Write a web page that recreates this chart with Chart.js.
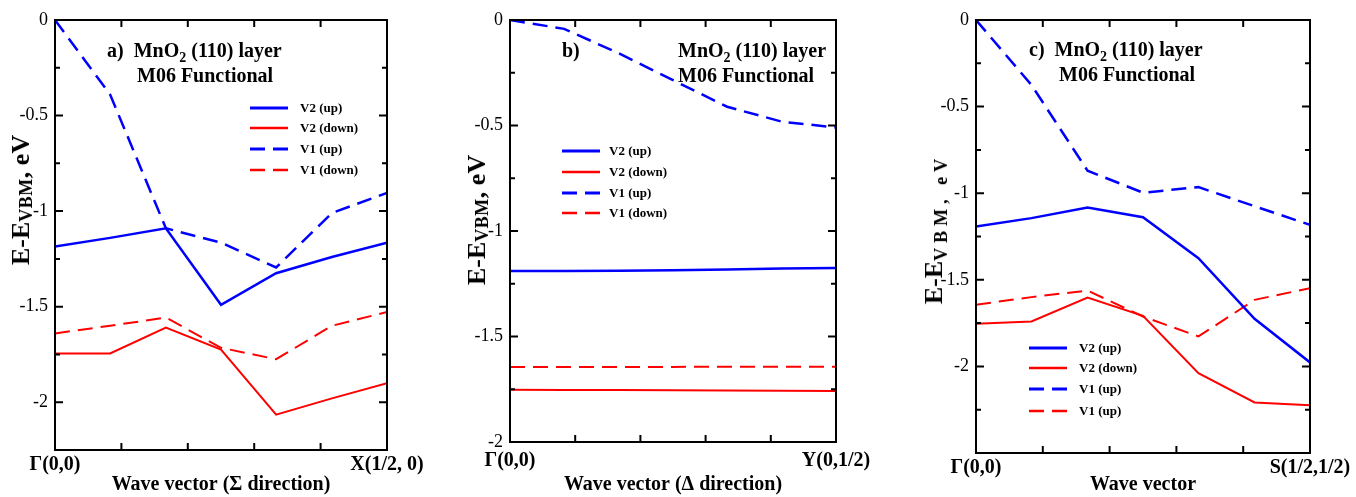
<!DOCTYPE html>
<html>
<head>
<meta charset="utf-8">
<script src="https://cdn.jsdelivr.net/npm/chart.js@4.4.1/dist/chart.umd.min.js"></script>
<style>
  body { margin: 0; background: #fff; width: 1356px; height: 497px; overflow: hidden; position: relative; }
  .panel { position: absolute; top: 0; height: 497px; }
  .note { position: absolute; font: bold 20px 'Liberation Serif', serif; line-height: 23px; color: #000; white-space: nowrap; }
  .sub2 { font-size: 14px; position: relative; top: 5px; }
  .ytitle { position: absolute; font: bold 26px 'Liberation Serif', serif; line-height: 30px; color: #000; white-space: nowrap;
            transform: translate(-50%, -50%) rotate(-90deg); }
  .ytitle .s { font-size: 18px; letter-spacing: 0.5px; position: relative; top: 3px; }
  .ytitle .w { font-size: 18px; letter-spacing: 5px; position: relative; top: 5px; }
</style>
</head>
<body>
<div class="panel" style="left:0;width:450px"><canvas id="chartA"></canvas></div>
<div class="panel" style="left:445px;width:460px"><canvas id="chartB"></canvas></div>
<div class="panel" style="left:905px;width:451px"><canvas id="chartC"></canvas></div>

<div class="note" style="left:107px;top:39px">a)&nbsp; MnO<span class="sub2">2</span> (110) layer<br>&nbsp;&nbsp;&nbsp;&nbsp;&nbsp;&nbsp;M06 Functional</div>
<div class="note" style="left:562px;top:39px">b)</div>
<div class="note" style="left:678px;top:39px">MnO<span class="sub2">2</span> (110) layer<br>M06 Functional</div>
<div class="note" style="left:1029px;top:38px">c)&nbsp; MnO<span class="sub2">2</span> (110) layer<br>&nbsp;&nbsp;&nbsp;&nbsp;&nbsp;&nbsp;M06 Functional</div>

<div class="ytitle" style="left:22px;top:200px">E-E<span class="s">VBM</span>, eV</div>
<div class="ytitle" style="left:478px;top:220px">E-E<span class="s">VBM</span>, eV</div>
<div class="ytitle" style="left:935px;top:229px">E-E<span class="w">VBM, eV</span></div>

<script>
'use strict';

// ********** DATA **********

// wave vector along the path, fraction of the zone (0 -> 1/2)
let kPath = [0, 0.083, 0.167, 0.25, 0.333, 0.417, 0.5];

let seriesNames = ['V2 (up)', 'V2 (down)', 'V1 (up)', 'V1 (down)'];
let seriesNamesC = ['V2 (up)', 'V2 (down)', 'V1 (up)', 'V1 (up)'];

// a) Sigma direction
let aV2up   = [-1.185, -1.14, -1.09, -1.49, -1.325, -1.24, -1.165];
let aV2down = [-1.745, -1.745, -1.61, -1.725, -2.065, -1.98, -1.90];
let aV1up   = [0, -0.39, -1.09, -1.165, -1.295, -1.01, -0.905];
let aV1down = [-1.64, -1.60, -1.557, -1.715, -1.775, -1.60, -1.528];

// b) Delta direction
let bV2up   = [-1.19, -1.19, -1.188, -1.186, -1.183, -1.178, -1.175];
let bV2down = [-1.752, -1.753, -1.754, -1.755, -1.756, -1.757, -1.758];
let bV1up   = [0, -0.042, -0.158, -0.285, -0.411, -0.482, -0.509];
let bV1down = [-1.644, -1.644, -1.644, -1.644, -1.643, -1.643, -1.643];

// c) Gamma -> S
let cV2up   = [-1.193, -1.144, -1.083, -1.139, -1.375, -1.725, -1.977];
let cV2down = [-1.754, -1.741, -1.602, -1.708, -2.039, -2.208, -2.225];
let cV1up   = [0, -0.375, -0.87, -0.997, -0.965, -1.075, -1.183];
let cV1down = [-1.644, -1.60, -1.562, -1.712, -1.827, -1.616, -1.548];

// tick labels
let startLabel = 'Γ(0,0)';
let endLabels = ['X(1/2, 0)', 'Y(0,1/2)', 'S(1/2,1/2)'];
let xTitles = ['Wave vector (Σ direction)', 'Wave vector (Δ direction)', 'Wave vector'];
let yMins = [-2.25, -2, -2.5];
let yBottomLabel = [false, true, false];

// ********** STYLE **********

const BLUE = '#0000ff';
const RED = '#ff0000';
const DASH = [15, 8];
const SERIF = "'Liberation Serif', 'Times New Roman', serif";

// ********** HELPER FUNCTIONS **********

function toPoints(values) {
  return values.map((v, i) => ({x: kPath[i], y: v}));
}

function isHalf(v) {
  return Math.abs(v * 2 - Math.round(v * 2)) < 1e-6;
}

// closed frame with inward ticks on all four sides
const frameTicks = {
  id: 'frameTicks',
  afterDatasetsDraw(chart) {
    let {ctx, chartArea: a, scales: {x, y}} = chart;
    ctx.save();
    ctx.strokeStyle = '#000';
    ctx.lineWidth = 2;
    ctx.beginPath();
    y.ticks.forEach(t => {
      let py = y.getPixelForValue(t.value);
      let len = isHalf(t.value) ? 8 : 5;
      ctx.moveTo(a.left, py); ctx.lineTo(a.left + len, py);
      ctx.moveTo(a.right, py); ctx.lineTo(a.right - len, py);
    });
    x.ticks.forEach(t => {
      let px = x.getPixelForValue(t.value);
      ctx.moveTo(px, a.bottom); ctx.lineTo(px, a.bottom - 7);
      ctx.moveTo(px, a.top); ctx.lineTo(px, a.top + 7);
    });
    ctx.stroke();
    ctx.strokeRect(a.left, a.top, a.right - a.left, a.bottom - a.top);
    ctx.restore();
  }
};

// legend placed inside the plot like the original
const boxLegend = {
  id: 'boxLegend',
  afterDraw(chart, args, opts) {
    let ctx = chart.ctx;
    ctx.save();
    ctx.font = 'bold 13px ' + SERIF;
    ctx.textBaseline = 'middle';
    ctx.fillStyle = '#000';
    chart.data.datasets.forEach((ds, i) => {
      let y = opts.rows[i];
      ctx.strokeStyle = ds.borderColor;
      ctx.lineWidth = ds.borderWidth + 0.5;
      ctx.setLineDash(ds.borderDash || []);
      ctx.beginPath();
      ctx.moveTo(opts.x0, y);
      ctx.lineTo(opts.x0 + 38, y);
      ctx.stroke();
      ctx.fillText(ds.label, opts.tx, y + 1);
    });
    ctx.restore();
  }
};

function yLabel(v, n) {
  if (!isHalf(v)) return '';
  if (Math.abs(v - yMins[n]) < 1e-6 && !yBottomLabel[n]) return '';
  return String(Math.round(v * 10) / 10);
}

function makePanel(id, n, series, names, geo) {
  let datasets = series.map((vals, i) => ({
    label: names[i],
    data: toPoints(vals),
    borderColor: i % 2 === 0 ? BLUE : RED,
    borderWidth: i % 2 === 0 ? 2.5 : 2,
    borderDash: i < 2 ? [] : DASH,
    pointRadius: 0,
    fill: false,
    tension: 0
  }));

  new Chart(document.getElementById(id), {
    type: 'line',
    data: {datasets: datasets},
    plugins: [frameTicks, boxLegend],
    options: {
      responsive: true,
      maintainAspectRatio: false,
      animation: false,
      layout: {padding: {left: 0, top: 20, right: geo.padRight, bottom: 0}},
      plugins: {
        legend: {display: false},
        tooltip: {enabled: false},
        boxLegend: {x0: geo.legX - geo.left, tx: geo.legText - geo.left, rows: geo.legRows}
      },
      scales: {
        x: {
          type: 'linear',
          min: 0,
          max: 0.5,
          grid: {display: false, drawTicks: false},
          border: {display: false},
          ticks: {
            stepSize: 0.1,
            autoSkip: false,
            maxRotation: 0,
            padding: geo.xPad,
            color: '#000',
            font: {family: SERIF, size: 20, weight: 'bold'},
            callback: v => Math.abs(v) < 1e-6 ? startLabel : (Math.abs(v - 0.5) < 1e-6 ? endLabels[n] : '')
          },
          title: {
            display: true,
            text: xTitles[n],
            color: '#000',
            padding: 0,
            font: {family: SERIF, size: 20, weight: 'bold'}
          },
          afterFit: s => { s.height = geo.xHeight; s.paddingLeft = 0; s.paddingRight = 0; }
        },
        y: {
          min: yMins[n],
          max: 0,
          grid: {display: false, drawTicks: false},
          border: {display: false},
          ticks: {
            stepSize: 0.25,
            autoSkip: false,
            padding: 7,
            color: '#000',
            font: {family: SERIF, size: 18},
            callback: v => yLabel(v, n)
          },
          afterFit: s => { s.width = geo.yWidth; }
        }
      }
    }
  });
}

// ********** EXECUTABLE **********

makePanel('chartA', 0, [aV2up, aV2down, aV1up, aV1down], seriesNames,
  {left: 0, yWidth: 55, padRight: 63, xHeight: 47, xPad: 3,
   legX: 250, legText: 300, legRows: [108, 128, 149, 170]});

makePanel('chartB', 1, [bV2up, bV2down, bV1up, bV1down], seriesNames,
  {left: 445, yWidth: 65, padRight: 69, xHeight: 55, xPad: 7,
   legX: 562, legText: 609, legRows: [151, 172, 193, 213]});

makePanel('chartC', 2, [cV2up, cV2down, cV1up, cV1down], seriesNamesC,
  {left: 905, yWidth: 71, padRight: 46, xHeight: 44, xPad: 3,
   legX: 1029, legText: 1079, legRows: [348, 368, 389, 411]});
</script>
</body>
</html>
